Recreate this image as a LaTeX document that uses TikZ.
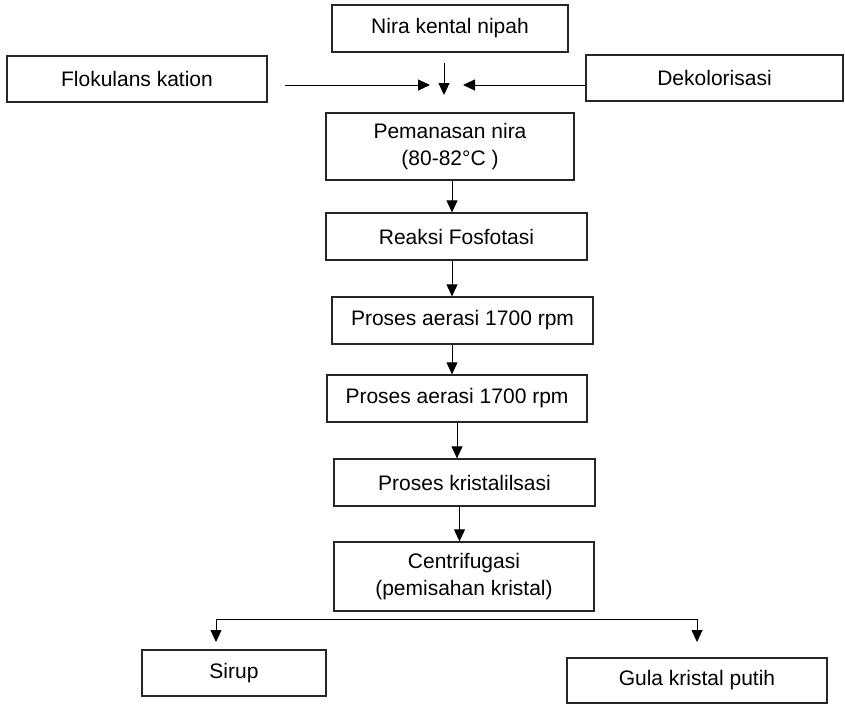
\documentclass[tikz,border=0pt]{standalone}
\usepackage{fontspec}
\setmainfont{Liberation Sans}
\usetikzlibrary{arrows.meta}

\begin{document}
\begin{tikzpicture}[
        x=1pt, y=-1pt,
        every node/.style={align=center, font=\fontsize{21}{27}\selectfont},
        process/.style = {draw=black!85,
                          line width=1.3pt,
                          inner sep=0pt,
                          minimum height=47pt},
        flow/.style = {-{Triangle[length=12pt,width=11pt]}, line width=0.9pt}
        ]
        \useasboundingbox (0,0) rectangle (845,705);
        \node[process, minimum width=236pt] (Nira) at (450,28.5) {Nira kental nipah};
        \node[process, minimum width=260pt, minimum height=46pt] (Flokulans) at (137,79) {Flokulans kation};
        \node[process, minimum width=257pt, minimum height=46pt] (Dekolorisasi) at (714.5,78) {Dekolorisasi};
        \node[process, minimum width=248pt, minimum height=67pt] (Pemanasan) at (450,146.5) {Pemanasan nira\\(80-82°C )};
        \node[process, minimum width=261pt] (Reaksi) at (456.5,236.5) {Reaksi Fosfotasi};
        \node[process, minimum width=261pt] (AerasiA) at (462.5,320.5) {Proses aerasi 1700 rpm};
        \node[process, minimum width=260pt] (AerasiB) at (457,398.5) {Proses aerasi 1700 rpm};
        \node[process, minimum width=261pt] (Kristalisasi) at (464.5,482.5) {Proses kristalilsasi};
        \node[process, minimum width=260pt, minimum height=69pt] (Centrifugasi) at (464,576.5) {Centrifugasi\\(pemisahan kristal)};
        \node[process, minimum width=184pt, minimum height=46pt] (Sirup) at (234,673) {Sirup};
        \node[process, minimum width=260pt, minimum height=45pt] (Gula) at (697,680.5) {Gula kristal putih};
        % inputs meeting above the heating step
        \coordinate (Mix) at (444,85);
        \coordinate (FlokIn) at (285,85);
        \coordinate (Spine) at (452,0);
        \draw[flow] (FlokIn) -- ([xshift=-14pt]Mix);
        \draw[flow] (Mix |- 0,63) -- (Mix |- 0,95);
        \draw[flow] (Dekolorisasi.west |- Mix) -- ([xshift=19pt]Mix);
        \draw[flow] (Pemanasan.south -| Spine) -- (Reaksi.north -| Spine);
        \draw[flow] (Reaksi.south -| Spine) -- (AerasiA.north -| Spine);
        \draw[flow] (AerasiA.south -| Spine) -- (AerasiB.north -| Spine);
        \draw[flow] (AerasiB.south) -- (AerasiB.south |- Kristalisasi.north);
        \draw[flow] ([xshift=-5pt]Kristalisasi.south) -- ([xshift=-5pt]Kristalisasi.south |- Centrifugasi.north);
        % split into syrup and white sugar
        \coordinate (SplitL) at (216,619);
        \coordinate (SplitR) at (697,619);
        \draw[flow, line width=0.8pt] (SplitR) -- (SplitL) -- ++(0,23);
        \draw[flow, line width=0.8pt] (SplitR) -- ++(0,23);
\end{tikzpicture}
\end{document}
